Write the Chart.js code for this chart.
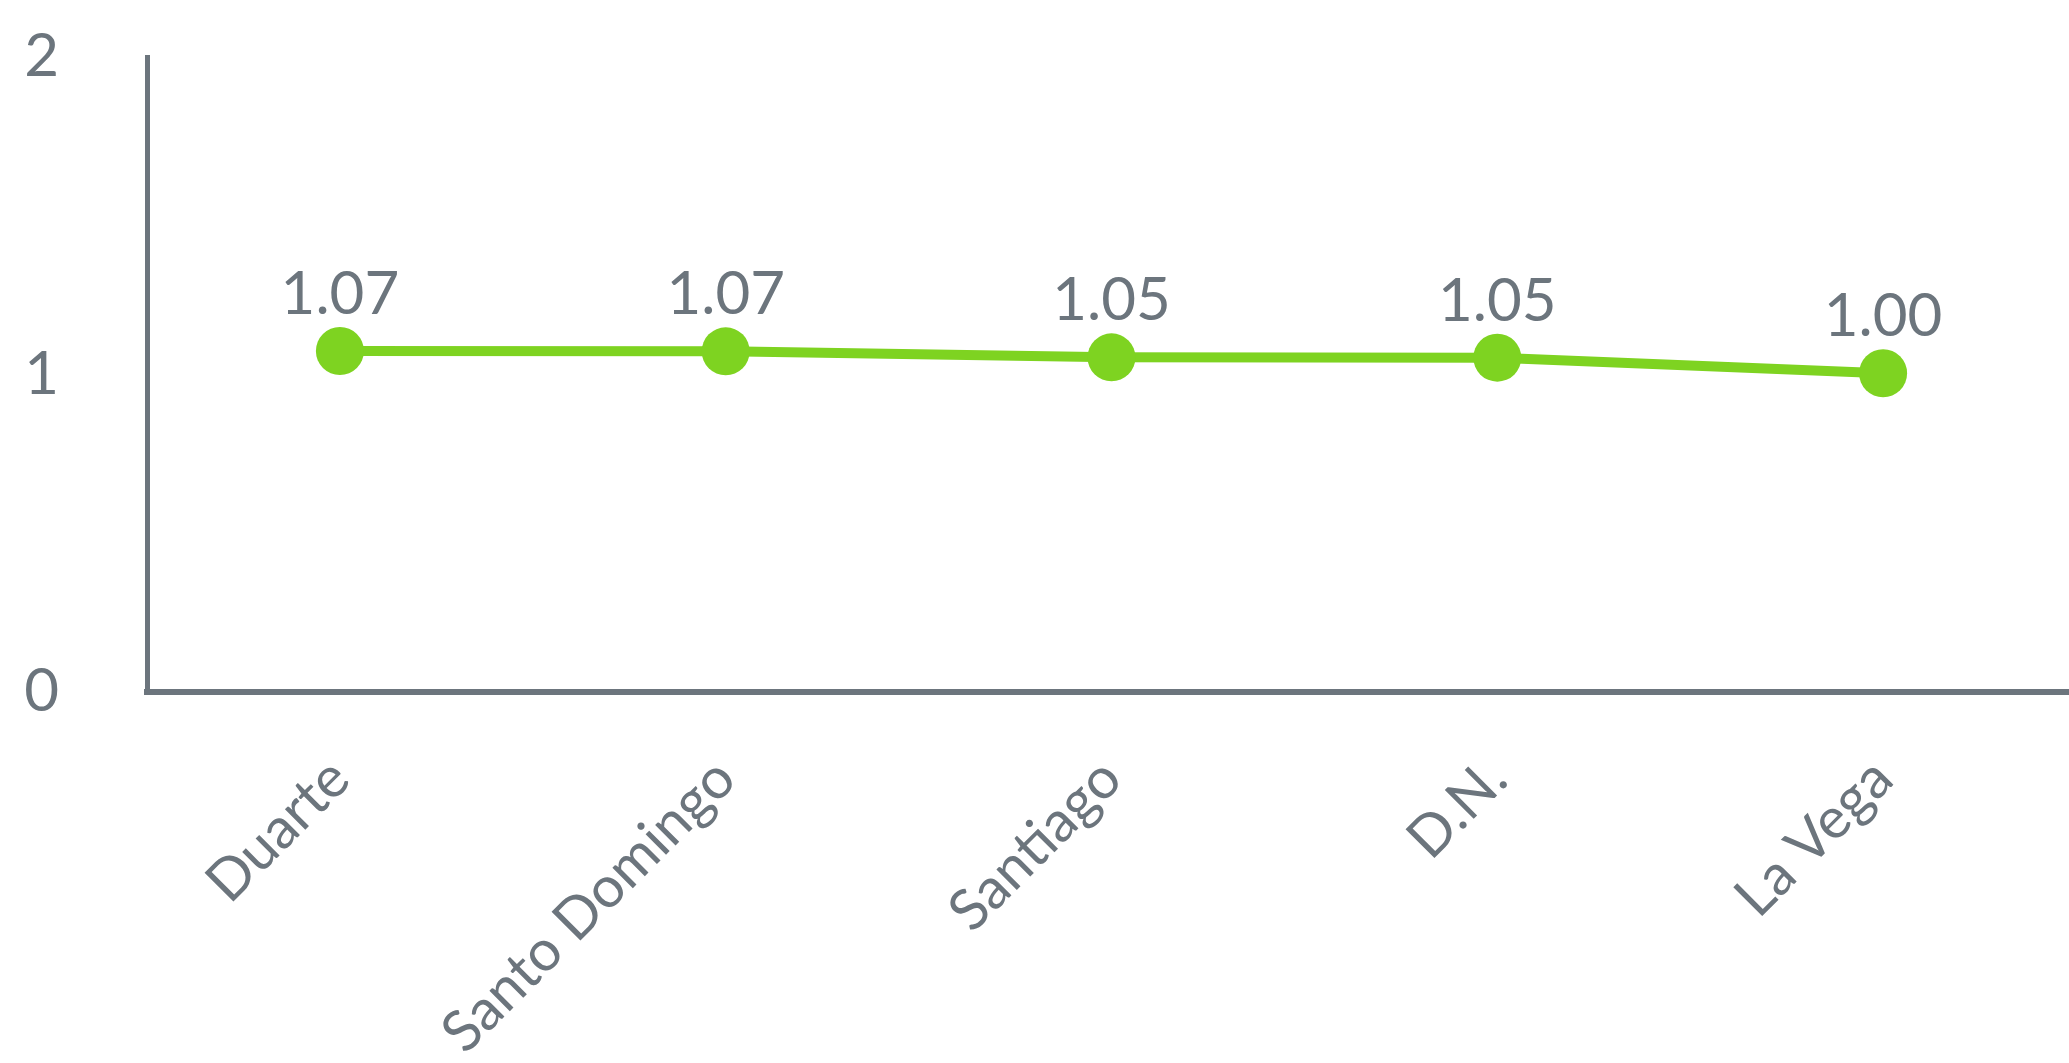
<!DOCTYPE html>
<html>
<head>
<meta charset="utf-8">
<script src="https://cdn.jsdelivr.net/npm/chart.js@4.4.1/dist/chart.umd.min.js"></script>
<style>
  html, body { margin: 0; padding: 0; background: #ffffff; overflow: hidden; }
  #wrap { width: 2076px; height: 1063px; }
</style>
</head>
<body>
<div id="wrap"><canvas id="c" width="2076" height="1063"></canvas></div>
<script>
const categories = ["Duarte", "Santo Domingo", "Santiago", "D.N.", "La Vega"];
const values = [1.074, 1.073, 1.054, 1.053, 1.004];
const yTicks = [0, 1, 2];

const GRAY = "#6c757d";
const GREEN = "#7ed321";

const valueLabels = {
  id: "valueLabels",
  afterDatasetsDraw(chart) {
    const ctx = chart.ctx;
    const meta = chart.getDatasetMeta(0);
    ctx.save();
    ctx.fillStyle = GRAY;
    ctx.font = "60px Lato";
    ctx.textAlign = "center";
    ctx.textBaseline = "alphabetic";
    meta.data.forEach((pt, i) => {
      ctx.fillText(values[i].toFixed(2), pt.x, pt.y - 37);
    });
    ctx.restore();
  }
};

new Chart(document.getElementById("c"), {
  type: "line",
  data: {
    labels: categories,
    datasets: [{
      data: values,
      borderColor: GREEN,
      backgroundColor: GREEN,
      borderWidth: 10,
      pointRadius: 24,
      pointHoverRadius: 24,
      pointBorderWidth: 0,
      pointBackgroundColor: GREEN,
      tension: 0,
      fill: false
    }]
  },
  options: {
    responsive: false,
    animation: false,
    events: [],
    layout: { autoPadding: false, padding: { top: 57, right: 0, bottom: 0, left: 0 } },
    plugins: { legend: { display: false }, tooltip: { enabled: false } },
    scales: {
      x: {
        offset: true,
        grid: { display: false, drawTicks: false },
        border: { display: true, color: GRAY, width: 6 },
        ticks: {
          color: GRAY,
          font: { family: "Lato", size: 57 },
          maxRotation: 45,
          minRotation: 45,
          padding: 53,
          autoSkip: false
        },
        afterFit(scale) {
          scale.height = 371;
          scale.paddingLeft = 0;
          scale.paddingRight = 0;
        }
      },
      y: {
        min: 0,
        max: 2,
        afterBuildTicks(scale) { scale.ticks = yTicks.map(v => ({ value: v })); },
        grid: { display: false, drawTicks: false },
        border: { display: true, color: GRAY, width: 5 },
        ticks: {
          color: GRAY,
          font: { family: "Lato", size: 60 },
          padding: 88,
          callback: (v) => String(v)
        },
        afterFit(scale) {
          scale.width = 147;
          scale.paddingTop = 0;
          scale.paddingBottom = 0;
        }
      }
    }
  },
  plugins: [valueLabels]
});
</script>
</body>
</html>
